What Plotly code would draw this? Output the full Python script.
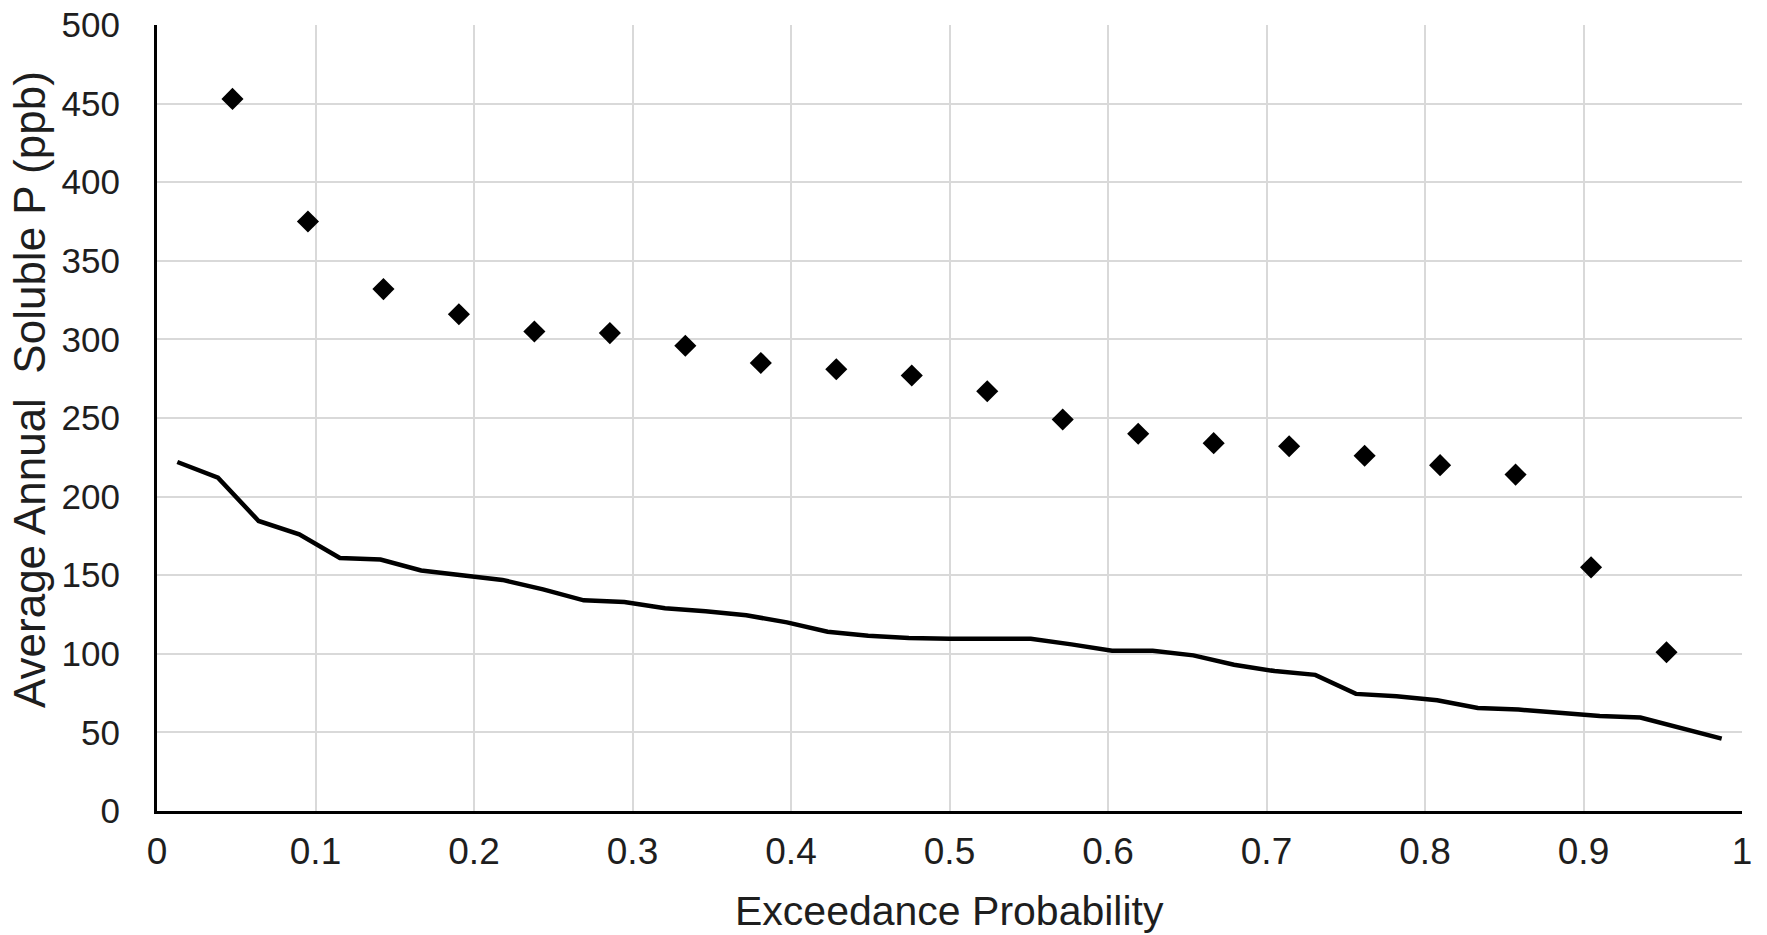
import plotly.graph_objects as go

# Observed data (diamonds): exceedance probability i/21
obs_prob = [1/21, 2/21, 3/21, 4/21, 5/21, 6/21, 7/21, 8/21, 9/21, 10/21,
            11/21, 12/21, 13/21, 14/21, 15/21, 16/21, 17/21, 18/21, 19/21, 20/21]
obs_p = [453, 375, 332, 316, 305, 304, 296, 285, 281, 277,
         267, 249, 240, 234, 232, 226, 220, 214, 155, 101]

# Simulated curve (line): exceedance probability (i-0.5)/39
sim_prob = [(i - 0.5) / 39 for i in range(1, 40)]
sim_p = [222, 212, 184.5, 176, 161, 160, 153, 150, 147, 141,
         134, 133, 129, 127, 124.5, 120, 114, 111.5, 110, 109.5,
         109.5, 109.5, 106, 102, 102, 99, 93, 89, 86.6, 74.5,
         73, 70.5, 65.5, 64.5, 62.5, 60.5, 59.5, 53, 46]

x_ticks = [0, 0.1, 0.2, 0.3, 0.4, 0.5, 0.6, 0.7, 0.8, 0.9, 1]
x_tick_text = ["0", "0.1", "0.2", "0.3", "0.4", "0.5", "0.6", "0.7", "0.8", "0.9", "1"]
y_ticks = [0, 50, 100, 150, 200, 250, 300, 350, 400, 450, 500]

FONT = "Liberation Sans, Arial, sans-serif"
TXT = "#1e1e1e"

fig = go.Figure()
fig.add_trace(go.Scatter(x=sim_prob, y=sim_p, mode="lines",
                         line=dict(color="black", width=4.5), showlegend=False))
fig.add_trace(go.Scatter(x=obs_prob, y=obs_p, mode="markers",
                         marker=dict(symbol="diamond", size=17, color="black"),
                         showlegend=False))

# The page body adds an 8 px offset, so the figure is sized to fit the window.
fig.update_layout(
    template="none",
    width=1759, height=927,
    margin=dict(l=149, r=25, t=17, b=124, pad=0),
    paper_bgcolor="white", plot_bgcolor="white",
    font=dict(family=FONT, color=TXT),
    xaxis=dict(range=[0, 1], tickvals=x_ticks, ticktext=x_tick_text,
               automargin=False, ticklabeloverflow="allow",
               showgrid=True, gridcolor="#d9d9d9", gridwidth=2,
               showline=True, linecolor="black", linewidth=3,
               zeroline=False, ticks="", ticklabelstandoff=6,
               tickfont=dict(size=37, family=FONT, color=TXT)),
    yaxis=dict(range=[0, 500], tickvals=y_ticks,
               automargin=False, ticklabeloverflow="allow",
               showgrid=True, gridcolor="#d9d9d9", gridwidth=2,
               showline=True, linecolor="black", linewidth=3,
               zeroline=False, ticks="", ticklabelstandoff=27,
               tickfont=dict(size=35, family=FONT, color=TXT)),
    annotations=[
        dict(text="Exceedance Probability", xref="paper", yref="paper",
             x=0.5, y=0, xanchor="center", yanchor="top", yshift=-76,
             showarrow=False, borderpad=0,
             font=dict(size=41, family=FONT, color=TXT)),
        dict(text="Average Annual  Soluble P (ppb)", xref="paper", yref="paper",
             x=0, y=0.5, xanchor="center", yanchor="middle", xshift=-128, yshift=28,
             textangle=-90, showarrow=False, borderpad=0,
             font=dict(size=44, family=FONT, color=TXT)),
    ],
)

fig.write_html("out.html")
